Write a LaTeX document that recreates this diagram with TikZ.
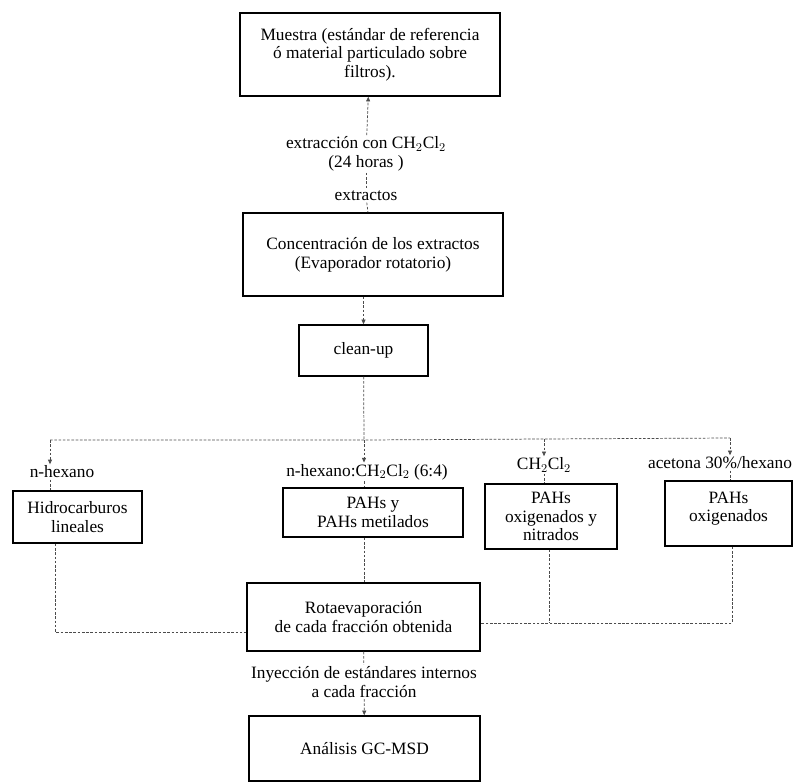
\documentclass[tikz,border=0pt]{standalone}
\usepackage{fontspec}
\setmainfont{Liberation Serif}
\usepackage{tikz}
\usetikzlibrary{arrows.meta}

\tikzset{
	caja/.style={draw, line width=1.1pt, align=center, inner sep=0pt, font=\fontsize{13}{14}\selectfont},
	etiq/.style={align=center, inner sep=1pt, font=\fontsize{13}{14}\selectfont},
	linea/.style={gray!60!black, line width=0.55pt, dash pattern=on 2pt off 1.2pt},
	flecha/.style={linea, -{Triangle[length=3.5pt, width=3pt]}}
}

\begin{document}
\begin{tikzpicture}[x=0.75pt, y=-0.75pt]
			\useasboundingbox (0, 0) rectangle (793, 782);

			\node (muestra) at (370, 54.5) [caja, minimum width=195pt, minimum height=62.25pt] {Muestra (estándar de referencia\\ ó material particulado sobre\\ filtros).};
			\node (ext) at (366, 154) [etiq] {extracción con CH$_2$Cl$_2$\\(24 horas )};
			\node (extractos) at (366, 196) [etiq] {extractos};
			\node (conc) at (373, 254.5) [caja, minimum width=195pt, minimum height=62.25pt] {Concentración de los extractos\\(Evaporador rotatorio)};
			\node (cleanup) at (363.5, 350.5) [caja, minimum width=96.75pt, minimum height=38.25pt] {clean-up};

			\draw [flecha] (ext) -- (muestra);
			\draw [linea] (ext) -- (extractos);
			\draw [linea] (extractos) -- (conc);
			\draw [flecha] (conc.south -| cleanup) -- (cleanup);

			\coordinate (bl) at (50, 440);
			\coordinate (bc) at (364, 440);
			\coordinate (bm) at (544, 439);
			\coordinate (br) at (730, 438);

			\node (nhex) at (62, 472) [etiq] {n-hexano};
			\node (nhexcl) at (367, 472) [etiq] {n-hexano:CH$_2$Cl$_2$ (6:4)};
			\node (ch2) at (544, 465) [etiq] {CH$_2$Cl$_2$};
			\node (acet) at (720, 463) [etiq] {acetona 30\%/hexano};

			\node (hidro) at (77.5, 517) [caja, minimum width=96.75pt, minimum height=39pt] {Hidrocarburos\\lineales};
			\node (pahs) at (373, 512.5) [caja, minimum width=135pt, minimum height=36.75pt] {PAHs y\\PAHs metilados};
			\node (oxnit) at (551, 516.5) [caja, minimum width=99pt, minimum height=48.75pt] {PAHs\\oxigenados y\\nitrados};
			\node (oxig) at (728.5, 513.5) [caja, minimum width=95.25pt, minimum height=48.75pt] {PAHs\\oxigenados\\[-4pt]};

			\draw [linea] (cleanup) -- (bc);
			\draw [linea] (bl) -- (bc) -- (bm) -- (br);
			\draw [flecha] (bl) -- (bl |- nhex.north);
			\draw [flecha] (bc) -- (bc |- nhexcl.north);
			\draw [flecha] (bm) -- (ch2);
			\draw [flecha] (br) -- (br |- acet.north);
			\draw [linea] (bl |- nhex.south) -- (bl |- hidro.north);
			\draw [linea] (bc |- nhexcl.south) -- (bc |- pahs.north);
			\draw [linea] (ch2) -- (ch2 |- oxnit.north);
			\draw [linea] (br |- acet.south) -- (br |- oxig.north);

			\node (rotaev) at (363.5, 617) [caja, minimum width=174.75pt, minimum height=51pt] {Rotaevaporación\\de cada fracción obtenida};
			\node (iny) at (364, 682) [etiq] {Inyección de estándares internos\\a cada fracción};
			\node (analisis) at (364.5, 748.5) [caja, minimum width=173.25pt, minimum height=48.75pt] {Análisis GC-MSD};

			\coordinate (ll) at (55, 632);
			\coordinate (rm) at (549, 623);
			\coordinate (rr) at (732, 623);

			\draw [linea] (hidro.south -| ll) -- (ll) -- (ll -| rotaev.west);
			\draw [linea] (pahs.south -| bc) -- (rotaev.north -| bc);
			\draw [linea] (oxnit.south -| rm) -- (rm);
			\draw [linea] (oxig.south -| rr) -- (rr) -- (rm) -- (rm -| rotaev.east);
			\draw [linea] (rotaev) -- (iny);
			\draw [flecha] (iny) -- (analisis);
		\end{tikzpicture}
\end{document}
